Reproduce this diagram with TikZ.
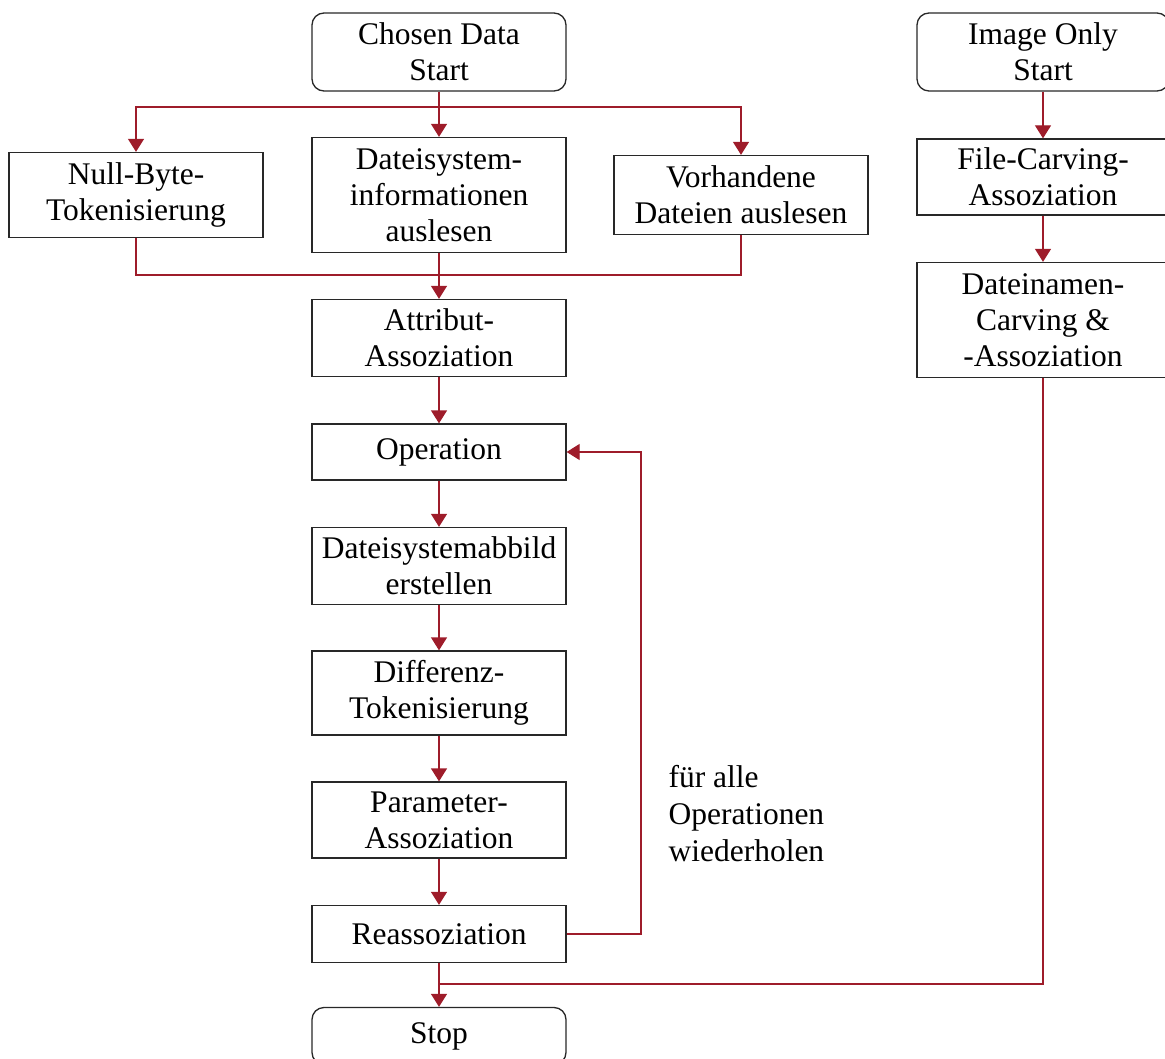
\documentclass[tikz,border=0pt]{standalone}
\usepackage{fontspec}
\setmainfont{Liberation Serif}
\usetikzlibrary{arrows.meta}
\definecolor{dred}{RGB}{158,28,42}
\definecolor{bord}{RGB}{40,40,40}
\tikzset{
  x=1pt, y=-1pt,
  box/.style={draw=bord, line width=1.3pt, fill=white, minimum width=254pt, inner sep=0pt,
    align=center, font=\fontsize{31.5}{36}\selectfont},
  term/.style={box, rounded corners=12pt},
  conn/.style={draw=dred, line width=1.3pt},
  arr/.style={conn, -{Triangle[width=16pt,length=13pt]}},
  lbl/.style={align=left, anchor=west, font=\fontsize{31.5}{37}\selectfont}
}
\begin{document}
\begin{tikzpicture}
\useasboundingbox (0,0) rectangle (1165,1059);
% left column
\node[term, minimum height=78pt] (cstart) at (439,52) {Chosen Data\\Start};
\node[box, minimum height=85pt] (nullb) at (136,195) {Null-Byte-\\Tokenisierung};
\node[box, minimum height=115pt] (dsinfo) at (439,195) {Dateisystem-\\informationen\\auslesen};
\node[box, minimum height=79pt] (vorh) at (741,195) {Vorhandene\\Dateien auslesen};
\node[box, minimum height=77pt] (attr) at (439,338) {Attribut-\\Assoziation};
\node[box, minimum height=56pt] (op) at (439,452) {Operation};
\node[box, minimum height=77pt] (dsab) at (439,566) {Dateisystemabbild\\erstellen};
\node[box, minimum height=84pt] (diff) at (439,693) {Differenz-\\Tokenisierung};
\node[box, minimum height=76pt] (param) at (439,820) {Parameter-\\Assoziation};
\node[box, minimum height=57pt] (reas) at (439,934) {Reassoziation};
\node[term, minimum height=57pt] (stop) at (439,1036) {Stop};
% right column
\node[term, minimum height=78pt, minimum width=252pt] (istart) at (1043,52) {Image Only\\Start};
\node[box, minimum height=76pt, minimum width=252pt] (fca) at (1043,177) {File-Carving-\\Assoziation};
\node[box, minimum height=115pt, minimum width=252pt] (dnc) at (1043,320) {Dateinamen-\\Carving \&\\-Assoziation};
% label
\node[lbl] (loopl) at (665,814) {für alle\\Operationen\\wiederholen};
% coordinates
\coordinate (split) at (439,107);
\coordinate (merge) at (439,275);
\coordinate (loopc) at (641,934);
\coordinate (join) at (439,984);
% connectors
\draw[arr] (cstart) -- (dsinfo);
\draw[arr] (split) -| (nullb.north);
\draw[arr] (split) -| (vorh.north);
\draw[conn] (nullb.south) |- (merge);
\draw[conn] (vorh.south) |- (merge);
\draw[arr] (dsinfo) -- (attr);
\draw[arr] (attr) -- (op);
\draw[arr] (op) -- (dsab);
\draw[arr] (dsab) -- (diff);
\draw[arr] (diff) -- (param);
\draw[arr] (param) -- (reas);
\draw[arr] (reas) -- (stop);
\draw[arr] (reas.east) -- (loopc) |- (op.east);
\draw[arr] (istart) -- (fca);
\draw[arr] (fca) -- (dnc);
\draw[conn] (dnc.south) |- (join);
\end{tikzpicture}
\end{document}
